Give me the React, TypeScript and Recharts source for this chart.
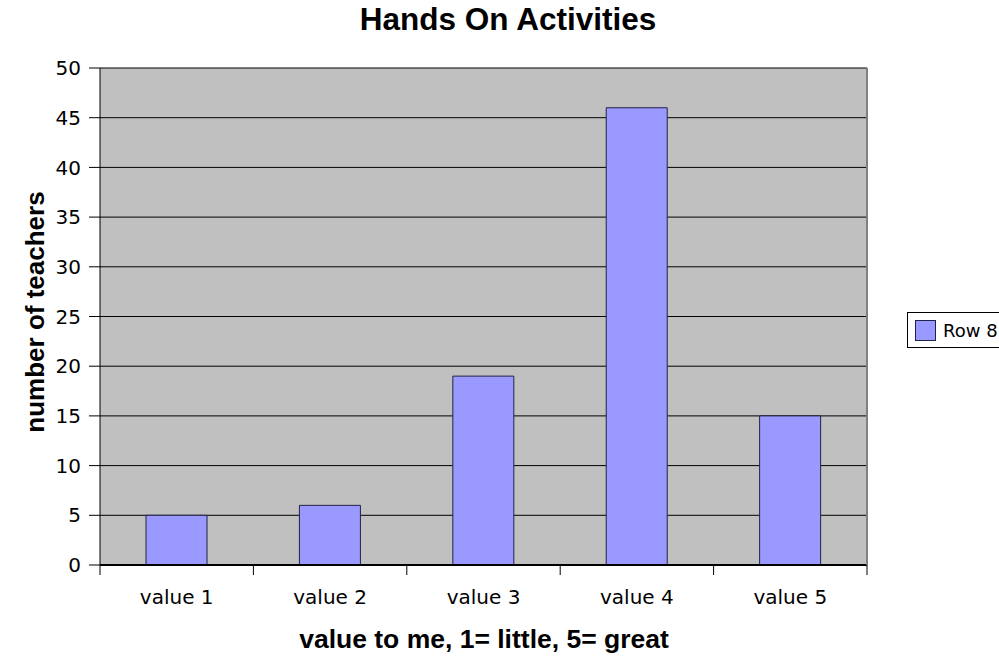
import React from "react";
import { BarChart, Bar, XAxis, YAxis, CartesianGrid } from "recharts";

const categories = ["value 1", "value 2", "value 3", "value 4", "value 5"];
const row8 = [5, 6, 19, 46, 15];
const yTicks = [0, 5, 10, 15, 20, 25, 30, 35, 40, 45, 50];
const seriesName = "Row 8";
const title = "Hands On Activities";
const xTitle = "value to me, 1= little, 5= great";
const yTitle = "number of teachers";

const data = categories.map((c, i) => ({ name: c, value: row8[i] }));

const tickFont = { fontFamily: "DejaVu Sans", fontSize: 20, fill: "#000" };
const titleFont = "Liberation Sans, Arial, sans-serif";

const LegendBox = () => (
  <div
    style={{
      position: "absolute",
      left: 907,
      top: 312,
      width: 110,
      height: 34,
      border: "1px solid #000",
      background: "#fff",
      display: "flex",
      alignItems: "center",
      boxSizing: "content-box",
    }}
  >
    <div
      style={{
        width: 19,
        height: 19,
        marginLeft: 7,
        background: "#9999ff",
        border: "1px solid #222244",
      }}
    />
    <span
      style={{
        marginLeft: 7,
        fontFamily: "DejaVu Sans",
        fontSize: 18,
        color: "#000",
        whiteSpace: "nowrap",
      }}
    >
      {seriesName}
    </span>
  </div>
);

const CategoryTick = (props: any) => {
  const { x, y, payload, index } = props;
  const half = payload && payload.offset ? payload.offset : 0;
  const left = x - half;
  const right = x + half;
  const last = index === categories.length - 1;
  return (
    <g>
      <line x1={left} x2={left} y1={y} y2={y + 10} stroke="#000" strokeWidth={1} />
      {last && <line x1={right} x2={right} y1={y} y2={y + 10} stroke="#000" strokeWidth={1} />}
      <text
        x={x}
        y={y + 25}
        dy="0.71em"
        textAnchor="middle"
        style={tickFont}
      >
        {payload.value}
      </text>
    </g>
  );
};

export default function App() {
  return (
    <div
      style={{
        position: "absolute",
        left: 0,
        top: 0,
        width: 999,
        height: 657,
        overflow: "hidden",
        background: "#fff",
      }}
    >
      <BarChart
        width={999}
        height={657}
        data={data}
        margin={{ top: 68, right: 131, bottom: 91, left: 99 }}
        barCategoryGap="30%"
      >
        <CartesianGrid
          vertical={false}
          stroke="#000"
          strokeWidth={1}
          fill="#c0c0c0"
          fillOpacity={1}
        />
        <XAxis
          dataKey="name"
          height={1}
          tickLine={false}
          tickSize={0}
          tickMargin={0}
          axisLine={{ stroke: "#000", strokeWidth: 2 }}
          tick={<CategoryTick />}
          interval={0}
        />
        <YAxis
          width={1}
          domain={[0, 50]}
          ticks={yTicks}
          interval={0}
          tickSize={11}
          tickMargin={8}
          tickLine={{ stroke: "#000" }}
          axisLine={{ stroke: "#000" }}
          tick={tickFont}
        />
        <YAxis
          yAxisId="r"
          orientation="right"
          width={1}
          domain={[0, 50]}
          tick={false}
          tickLine={false}
          axisLine={{ stroke: "#808080", strokeWidth: 2 }}
        />
        <Bar
          dataKey="value"
          name={seriesName}
          fill="#9999ff"
          stroke="#222244"
          strokeWidth={1}
          isAnimationActive={false}
        />
        <text
          x={508}
          y={30}
          textAnchor="middle"
          style={{ fontFamily: titleFont, fontWeight: "bold", fontSize: 31.5, fill: "#000" }}
        >
          {title}
        </text>
        <text
          x={484}
          y={648}
          textAnchor="middle"
          style={{ fontFamily: titleFont, fontWeight: "bold", fontSize: 26.5, fill: "#000" }}
        >
          {xTitle}
        </text>
        <text
          x={44}
          y={312}
          textAnchor="middle"
          transform="rotate(-90 44 312)"
          style={{ fontFamily: titleFont, fontWeight: "bold", fontSize: 26, fill: "#000" }}
        >
          {yTitle}
        </text>
      </BarChart>
      <LegendBox />
    </div>
  );
}
